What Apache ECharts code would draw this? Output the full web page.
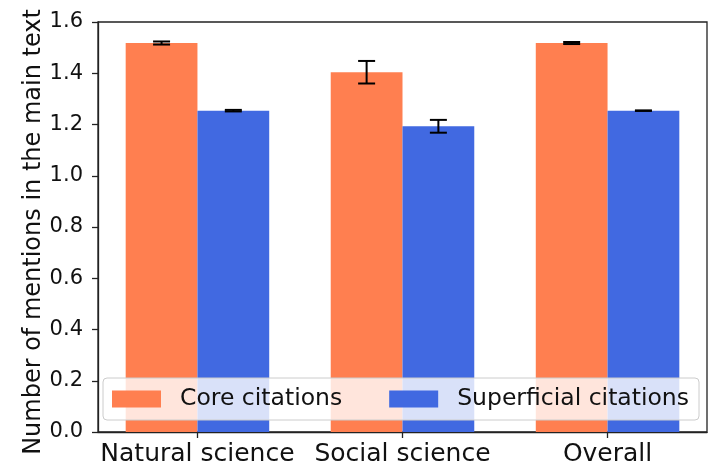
<!DOCTYPE html>
<html>
<head>
<meta charset="utf-8">
<script src="https://cdn.jsdelivr.net/npm/echarts@6/dist/echarts.min.js"></script>
<style>
  html, body { margin: 0; padding: 0; background: #fff; }
  #chart { width: 708px; height: 469px; }
</style>
</head>
<body>
<div id="chart"></div>
<script>
// Mean number of in-text mentions per citation, by field
const categories = ['Natural science', 'Social science', 'Overall'];
const coreMeans = [1.518, 1.404, 1.518];
const coreErrors = [0.006, 0.044, 0.004];
const superficialMeans = [1.254, 1.193, 1.254];
const superficialErrors = [0.003, 0.025, 0.001];
const yTicks = [0, 0.2, 0.4, 0.6, 0.8, 1.0, 1.2, 1.4, 1.6];

const BAR_W = 0.35;            // bar width in category units
const CORE_COLOR = '#FF7F50';
const SUP_COLOR = '#4169E1';
const FONT = 'DejaVu Sans';

function barData(means, shift) {
  return means.map((v, i) => [i + shift, v]);
}
function errData(means, errs, shift) {
  return means.map((v, i) => [i + shift, v - errs[i], v + errs[i]]);
}

function renderBar(params, api) {
  const x = api.value(0);
  const y = api.value(1);
  const p0 = api.coord([x - BAR_W / 2, y]);
  const p1 = api.coord([x + BAR_W / 2, 0]);
  return {
    type: 'rect',
    shape: { x: p0[0], y: p0[1], width: p1[0] - p0[0], height: p1[1] - p0[1] },
    style: { fill: api.visual('color') }
  };
}

function renderErr(params, api) {
  const x = api.value(0);
  const lo = api.coord([x, api.value(1)]);
  const hi = api.coord([x, api.value(2)]);
  const cap = 8.5;
  const st = { stroke: '#000', lineWidth: 2, fill: null };
  return {
    type: 'group',
    children: [
      { type: 'line', shape: { x1: lo[0], y1: lo[1], x2: hi[0], y2: hi[1] }, style: st },
      { type: 'line', shape: { x1: lo[0] - cap, y1: lo[1], x2: lo[0] + cap, y2: lo[1] }, style: st },
      { type: 'line', shape: { x1: hi[0] - cap, y1: hi[1], x2: hi[0] + cap, y2: hi[1] }, style: st }
    ]
  };
}

const chart = echarts.init(document.getElementById('chart'), null, { renderer: 'canvas' });

chart.setOption({
  animation: false,
  backgroundColor: '#fff',
  textStyle: { fontFamily: FONT },
  grid: {
    left: 98, right: 1, top: 22, bottom: 37,
    show: true, borderColor: '#222', borderWidth: 1.3, backgroundColor: 'transparent'
  },
  legend: {
    left: 103, top: 378,
    orient: 'horizontal',
    icon: 'rect',
    itemWidth: 49, itemHeight: 17,
    itemGap: 47,
    padding: [9, 10, 9, 9],
    backgroundColor: 'rgba(255,255,255,0.8)',
    borderColor: '#cccccc', borderWidth: 1, borderRadius: 4,
    textStyle: { fontFamily: FONT, fontSize: 23.5, color: '#111', padding: [0, 0, 0, 14] },
    data: ['Core citations', 'Superficial citations']
  },
  xAxis: {
    type: 'value',
    min: -0.485, max: 2.485,
    splitLine: { show: false },
    axisLine: { show: true, onZero: false, lineStyle: { color: '#222', width: 1.3 } },
    axisTick: { show: true, customValues: [0, 1, 2], length: 6, lineStyle: { color: '#222', width: 1.3 } },
    axisLabel: {
      customValues: [0, 1, 2],
      formatter: v => categories[Math.round(v)],
      fontFamily: FONT, fontSize: 25, color: '#111', margin: 10
    }
  },
  yAxis: {
    type: 'value',
    min: 0, max: 1.6, interval: 0.2,
    name: 'Number of mentions in the main text',
    nameLocation: 'middle',
    nameGap: 52,
    nameMoveOverlap: false,
    nameTextStyle: { fontFamily: FONT, fontSize: 24, color: '#111', padding: [0, 10, 0, 0] },
    splitLine: { show: false },
    axisLine: { show: true, onZero: false, lineStyle: { color: '#222', width: 1.3 } },
    axisTick: { show: true, length: 6, lineStyle: { color: '#222', width: 1.3 } },
    axisLabel: {
      fontFamily: FONT, fontSize: 21, color: '#111', margin: 15,
      formatter: v => yTicks.includes(Math.round(v * 10) / 10) ? v.toFixed(1) : ''
    }
  },
  series: [
    {
      name: 'Core citations', type: 'custom',
      itemStyle: { color: CORE_COLOR },
      renderItem: renderBar,
      encode: { x: 0, y: 1 },
      data: barData(coreMeans, -BAR_W / 2), z: 2
    },
    {
      name: 'Superficial citations', type: 'custom',
      itemStyle: { color: SUP_COLOR },
      renderItem: renderBar,
      encode: { x: 0, y: 1 },
      data: barData(superficialMeans, BAR_W / 2), z: 2
    },
    {
      name: 'coreErr', type: 'custom',
      renderItem: renderErr,
      encode: { x: 0, y: [1, 2] },
      data: errData(coreMeans, coreErrors, -BAR_W / 2), z: 3
    },
    {
      name: 'supErr', type: 'custom',
      renderItem: renderErr,
      encode: { x: 0, y: [1, 2] },
      data: errData(superficialMeans, superficialErrors, BAR_W / 2), z: 3
    }
  ]
});
</script>
</body>
</html>
